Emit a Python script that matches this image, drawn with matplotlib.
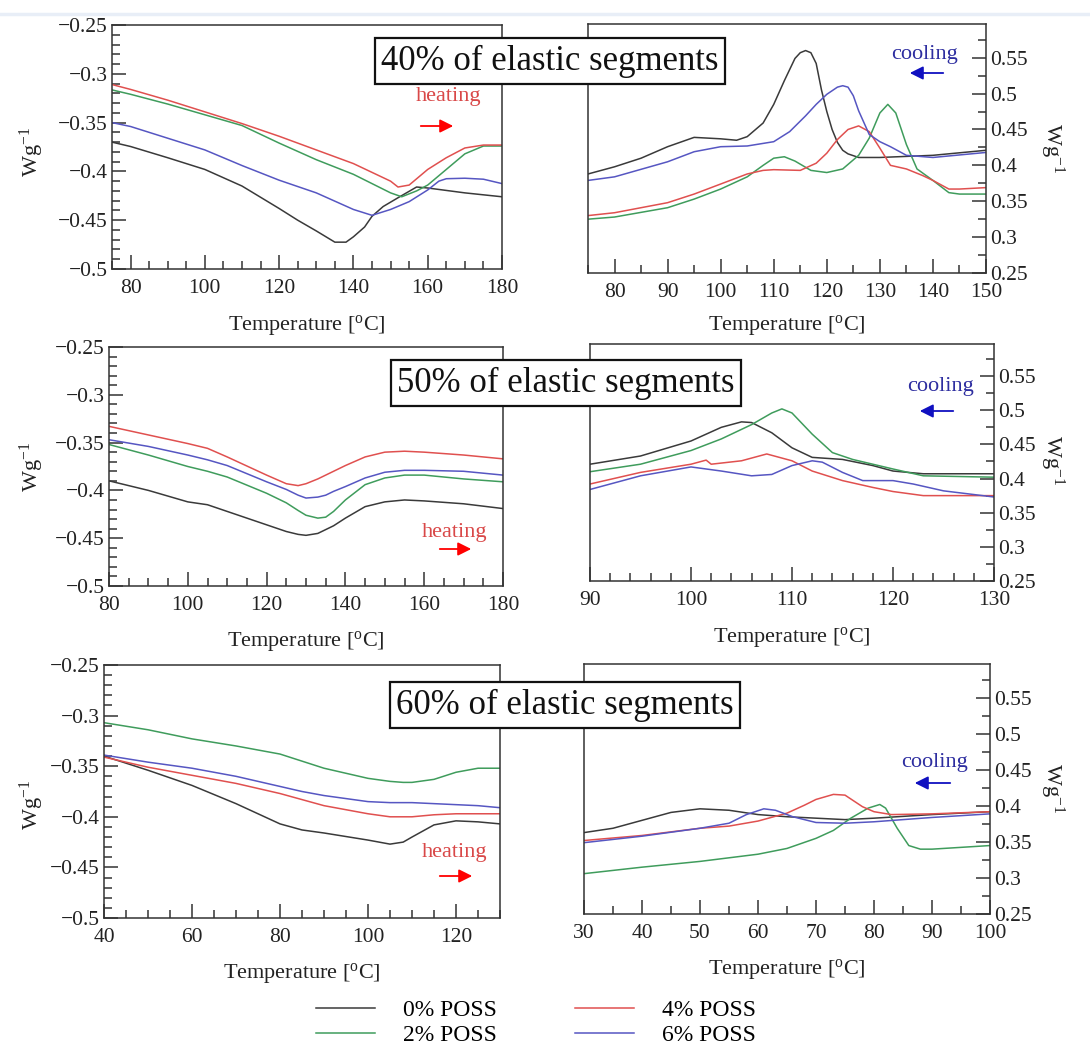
import matplotlib
matplotlib.use('Agg')
import matplotlib.pyplot as plt
from matplotlib.ticker import MultipleLocator, FuncFormatter

plt.rcParams['font.family'] = ['Liberation Serif', 'DejaVu Serif']
plt.rcParams['mathtext.fontset'] = 'custom'
plt.rcParams['mathtext.rm'] = 'Liberation Serif'
plt.rcParams['mathtext.it'] = 'Liberation Serif:italic'

# ---- 40% elastic segments, heating ----
a_black_T = [75, 80, 90, 100, 110, 120, 125, 130, 135, 138, 140, 143, 145, 148, 152, 157, 160, 170, 180]
a_black_y = [-0.370, -0.3745, -0.386, -0.398, -0.415, -0.438, -0.450, -0.461, -0.4725, -0.4725, -0.467,
             -0.457, -0.446, -0.436, -0.427, -0.416, -0.417, -0.422, -0.426]
a_green_T = [75, 80, 90, 100, 110, 120, 130, 140, 150, 153, 157, 160, 165, 170, 175, 180]
a_green_y = [-0.3165, -0.321, -0.331, -0.342, -0.353, -0.371, -0.388, -0.403, -0.422, -0.426, -0.420,
             -0.414, -0.398, -0.382, -0.374, -0.374]
a_red_T = [75, 80, 90, 100, 110, 120, 130, 140, 150, 152, 155, 160, 165, 170, 175, 180]
a_red_y = [-0.311, -0.316, -0.327, -0.339, -0.351, -0.364, -0.378, -0.392, -0.410, -0.416, -0.414,
           -0.398, -0.386, -0.376, -0.373, -0.373]
a_blue_T = [75, 80, 90, 100, 110, 120, 130, 140, 145, 150, 155, 160, 163, 165, 170, 175, 180]
a_blue_y = [-0.350, -0.354, -0.366, -0.378, -0.394, -0.409, -0.422, -0.439, -0.445, -0.439, -0.431,
            -0.419, -0.410, -0.4075, -0.407, -0.408, -0.4125]

# ---- 40% elastic segments, cooling ----
b_black_T = [75, 80, 85, 90, 95, 100, 103, 105, 108, 110, 112, 114, 115, 116, 117, 118, 119, 120, 121,
             122, 123, 124, 126, 130, 140, 150]
b_black_y = [0.388, 0.398, 0.410, 0.426, 0.439, 0.437, 0.435, 0.440, 0.459, 0.485, 0.518, 0.549, 0.557,
             0.560, 0.557, 0.542, 0.505, 0.475, 0.450, 0.432, 0.421, 0.416, 0.411, 0.411, 0.414, 0.421]
b_green_T = [75, 80, 90, 95, 100, 105, 108, 110, 112, 114, 117, 120, 123, 126, 128, 130, 131.5, 133,
             135, 137, 140, 143, 145, 150]
b_green_y = [0.325, 0.328, 0.341, 0.353, 0.367, 0.384, 0.400, 0.410, 0.412, 0.406, 0.393, 0.390, 0.395,
             0.414, 0.438, 0.473, 0.485, 0.473, 0.429, 0.395, 0.379, 0.362, 0.360, 0.360]
b_red_T = [75, 80, 90, 95, 100, 105, 108, 110, 115, 118, 120, 122, 124, 126, 128, 130, 132, 135, 138,
           140, 143, 145, 150]
b_red_y = [0.330, 0.334, 0.348, 0.360, 0.374, 0.388, 0.393, 0.394, 0.393, 0.403, 0.417, 0.436, 0.450,
           0.455, 0.447, 0.424, 0.400, 0.395, 0.386, 0.379, 0.367, 0.367, 0.369]
b_blue_T = [75, 80, 90, 95, 100, 105, 110, 113, 116, 118, 120, 122, 123, 124, 125, 126, 128, 130, 132,
            135, 140, 150]
b_blue_y = [0.379, 0.384, 0.405, 0.419, 0.426, 0.427, 0.433, 0.447, 0.469, 0.485, 0.499, 0.509, 0.511,
            0.509, 0.497, 0.476, 0.443, 0.433, 0.426, 0.414, 0.411, 0.418]

# ---- 50% elastic segments, heating ----
c_T = [80, 90, 100, 105, 110, 120, 125, 128, 130, 133, 135, 137, 140, 145, 150, 155, 160, 170, 180]
c_black = [-0.390, -0.400, -0.412, -0.415, -0.422, -0.436, -0.443, -0.446, -0.447, -0.445, -0.441,
           -0.437, -0.429, -0.417, -0.412, -0.410, -0.411, -0.414, -0.419]
c_green = [-0.352, -0.363, -0.375, -0.380, -0.386, -0.403, -0.413, -0.421, -0.426, -0.429, -0.428,
           -0.422, -0.410, -0.394, -0.387, -0.384, -0.384, -0.388, -0.391]
c_red = [-0.333, -0.342, -0.351, -0.356, -0.365, -0.384, -0.393, -0.395, -0.393, -0.388, -0.384,
         -0.380, -0.374, -0.365, -0.360, -0.359, -0.360, -0.363, -0.367]
c_blue = [-0.347, -0.354, -0.363, -0.368, -0.374, -0.391, -0.399, -0.405, -0.408, -0.407, -0.405,
          -0.401, -0.396, -0.387, -0.381, -0.379, -0.379, -0.380, -0.384]

# ---- 50% elastic segments, cooling ----
d_black_T = [90, 95, 100, 103, 105, 106, 108, 110, 112, 115, 118, 120, 123, 130]
d_black_y = [0.421, 0.433, 0.455, 0.475, 0.483, 0.482, 0.467, 0.445, 0.431, 0.428, 0.419, 0.411, 0.407, 0.407]
d_green_T = [90, 95, 100, 103, 106, 108, 109, 110, 112, 114, 116, 118, 120, 123, 130]
d_green_y = [0.410, 0.421, 0.441, 0.458, 0.479, 0.496, 0.502, 0.496, 0.465, 0.438, 0.428, 0.421, 0.414,
             0.404, 0.402]
d_red_T = [90, 95, 100, 101.5, 102, 105, 107.5, 110, 112, 115, 118, 120, 123, 130]
d_red_y = [0.392, 0.409, 0.421, 0.427, 0.421, 0.426, 0.436, 0.426, 0.411, 0.397, 0.387, 0.381, 0.375, 0.375]
d_blue_T = [90, 95, 100, 103, 106, 108, 110, 112, 113, 115, 117, 120, 122, 125, 130]
d_blue_y = [0.384, 0.404, 0.417, 0.411, 0.404, 0.406, 0.419, 0.426, 0.424, 0.409, 0.397, 0.397, 0.392,
            0.382, 0.373]

# ---- 60% elastic segments, heating ----
e_T = [40, 50, 60, 70, 80, 85, 90, 100, 105, 108, 110, 115, 120, 125, 130]
e_black = [-0.340, -0.354, -0.369, -0.387, -0.407, -0.413, -0.416, -0.423, -0.427, -0.425, -0.420,
           -0.408, -0.404, -0.405, -0.407]
e_green = [-0.307, -0.314, -0.323, -0.330, -0.338, -0.345, -0.352, -0.362, -0.365, -0.366, -0.366,
           -0.363, -0.356, -0.352, -0.352]
e_red = [-0.341, -0.351, -0.359, -0.367, -0.377, -0.383, -0.389, -0.397, -0.400, -0.400, -0.400,
         -0.398, -0.397, -0.397, -0.397]
e_blue = [-0.339, -0.346, -0.352, -0.360, -0.370, -0.375, -0.379, -0.385, -0.386, -0.386, -0.386,
          -0.387, -0.388, -0.389, -0.391]

# ---- 60% elastic segments, cooling ----
f_black_T = [30, 35, 40, 45, 50, 55, 60, 65, 70, 75, 80, 90, 100]
f_black_y = [0.363, 0.369, 0.380, 0.391, 0.396, 0.394, 0.388, 0.385, 0.383, 0.381, 0.383, 0.388, 0.392]
f_green_T = [30, 40, 50, 60, 65, 70, 73, 76, 79, 81, 82, 84, 86, 88, 90, 100]
f_green_y = [0.306, 0.315, 0.323, 0.333, 0.341, 0.355, 0.366, 0.383, 0.397, 0.402, 0.397, 0.369, 0.345,
             0.340, 0.340, 0.345]
f_red_T = [30, 40, 50, 55, 60, 65, 68, 70, 73, 75, 78, 80, 83, 90, 100]
f_red_y = [0.352, 0.359, 0.369, 0.372, 0.379, 0.390, 0.401, 0.409, 0.416, 0.415, 0.399, 0.392, 0.388,
           0.389, 0.392]
f_blue_T = [30, 40, 50, 55, 58, 61, 63, 66, 70, 75, 80, 90, 100]
f_blue_y = [0.349, 0.358, 0.369, 0.376, 0.388, 0.396, 0.394, 0.385, 0.377, 0.376, 0.378, 0.384, 0.389]

labels = ['0% POSS', '2% POSS', '4% POSS', '6% POSS']
colors = ['#3a3a3a', '#3f9c5c', '#e0504f', '#5656c2']
titles = ['40% of elastic segments', '50% of elastic segments', '60% of elastic segments']

W, H = 1090, 1048
fig = plt.figure(figsize=(W / 100, H / 100), dpi=100)


def rect(l, t, r, b):
    return [l / W, 1 - b / H, (r - l) / W, (b - t) / H]


def fmt(v, p):
    return ('%g' % round(v, 4)).replace('-', '\u2212')


def style(ax, xlim, xmaj, xmin, ylim, ymaj, ymin, right=False):
    ax.set_xlim(xlim)
    ax.set_ylim(ylim)
    ax.xaxis.set_major_locator(MultipleLocator(xmaj))
    ax.xaxis.set_minor_locator(MultipleLocator(xmin))
    ax.yaxis.set_major_locator(MultipleLocator(ymaj))
    ax.yaxis.set_minor_locator(MultipleLocator(ymin))
    ax.xaxis.set_major_formatter(FuncFormatter(fmt))
    ax.yaxis.set_major_formatter(FuncFormatter(fmt))
    ax.tick_params(which='both', direction='in', colors='#333333', labelcolor='#222222',
                   labelsize=15.5, width=1.1, top=False, right=right, left=not right,
                   labelright=right, labelleft=not right)
    ax.tick_params(which='major', length=10)
    ax.tick_params(which='minor', length=5.5)
    ax.tick_params(axis='x', pad=7)
    ax.tick_params(axis='y', pad=3)
    for s in ax.spines.values():
        s.set_color('#333333')
        s.set_linewidth(1.1)


def curves(ax, data):
    lines = []
    for (t, y), c, lab in zip(data, colors, labels):
        ln, = ax.plot(t, y, color=c, lw=1.1, label=lab)
        lines.append(ln)
    return lines


# axes placed in pixel coordinates of the reference
ax1 = fig.add_axes(rect(112, 25, 502, 269))
ax2 = fig.add_axes(rect(588, 24, 986, 273))
ax3 = fig.add_axes(rect(109, 347, 503, 586))
ax4 = fig.add_axes(rect(590, 344, 994, 581))
ax5 = fig.add_axes(rect(104, 665, 500, 918))
ax6 = fig.add_axes(rect(584, 664, 990, 914))

handles = curves(ax1, [(a_black_T, a_black_y), (a_green_T, a_green_y), (a_red_T, a_red_y), (a_blue_T, a_blue_y)])
curves(ax2, [(b_black_T, b_black_y), (b_green_T, b_green_y), (b_red_T, b_red_y), (b_blue_T, b_blue_y)])
curves(ax3, [(c_T, c_black), (c_T, c_green), (c_T, c_red), (c_T, c_blue)])
curves(ax4, [(d_black_T, d_black_y), (d_green_T, d_green_y), (d_red_T, d_red_y), (d_blue_T, d_blue_y)])
curves(ax5, [(e_T, e_black), (e_T, e_green), (e_T, e_red), (e_T, e_blue)])
curves(ax6, [(f_black_T, f_black_y), (f_green_T, f_green_y), (f_red_T, f_red_y), (f_blue_T, f_blue_y)])

style(ax1, (75, 180), 20, 5, (-0.5, -0.25), 0.05, 0.01)
style(ax2, (75, 150), 10, 5, (0.25, 0.597), 0.05, 0.025, right=True)
style(ax3, (80, 180), 20, 5, (-0.5, -0.25), 0.05, 0.01)
style(ax4, (90, 130), 10, 2, (0.25, 0.597), 0.05, 0.025, right=True)
style(ax5, (40, 130), 20, 5, (-0.5, -0.25), 0.05, 0.01)
style(ax6, (30, 100), 10, 5, (0.25, 0.597), 0.05, 0.025, right=True)

# faint screenshot band at the very top
fig.add_artist(matplotlib.lines.Line2D([0, 1], [1 - 14 / H, 1 - 14 / H], transform=fig.transFigure,
                                       color='#e8eef7', lw=2.5))


def ftext(x, y, s, **kw):
    fig.text(x / W, 1 - y / H, s, **kw)


xlab = 'Temperature [$^{\\mathrm{o}}$C]'
ylab = 'Wg$^{\\mathrm{-1}}$'
for x, y in [(307, 325), (787, 325), (306, 641), (792, 638), (302, 974), (787, 970)]:
    ftext(x, y, xlab, ha='center', va='center', fontsize=16, color='#222222')
for y in [152, 467, 805]:
    ftext(32, y, ylab, ha='center', va='center', rotation=90, fontsize=16, color='#222222')
for y in [148, 460, 788]:
    ftext(1052, y, ylab, ha='center', va='center', rotation=270, fontsize=16, color='#222222')

# section titles in boxes
for (x, y), s in zip([(550, 61), (566, 383), (565, 705)], titles):
    ftext(x, y, s, ha='center', va='center', fontsize=25, color='#111111', zorder=10,
          bbox=dict(boxstyle='square,pad=0.18', fc='white', ec='#111111', lw=1.6))

# heating / cooling arrows
heat = '#d94848'
cool = '#2e2ea0'
for (tx, ty), (x0, x1, ya) in [((449, 97), (418, 456, 126)), ((455, 532), (437, 474, 549)),
                               ((455, 853), (437, 475, 876))]:
    ftext(tx, ty, 'heating', ha='center', va='center', fontsize=16, color=heat)
    fig.add_artist(matplotlib.patches.FancyArrowPatch((x0 / W, 1 - ya / H), (x1 / W, 1 - ya / H),
                   transform=fig.transFigure, arrowstyle='-|>', mutation_scale=20, color='red', lw=1.3))
for (tx, ty), (x0, x1, ya) in [((924, 55), (946, 907, 73)), ((940, 387), (956, 917, 411)),
                               ((935, 762), (953, 912, 783))]:
    ftext(tx, ty, 'cooling', ha='center', va='center', fontsize=16, color=cool)
    fig.add_artist(matplotlib.patches.FancyArrowPatch((x0 / W, 1 - ya / H), (x1 / W, 1 - ya / H),
                   transform=fig.transFigure, arrowstyle='-|>', mutation_scale=20, color='#1010c0', lw=1.3))

fig.legend(handles=handles, labels=labels, ncol=2, loc='center', bbox_to_anchor=(536 / W, 1 - 1023 / H),
           frameon=False, fontsize=17, handlelength=2.5, handletextpad=1.2, columnspacing=3.3,
           labelspacing=0.15, borderpad=0)

fig.savefig('out.png', dpi=100)
